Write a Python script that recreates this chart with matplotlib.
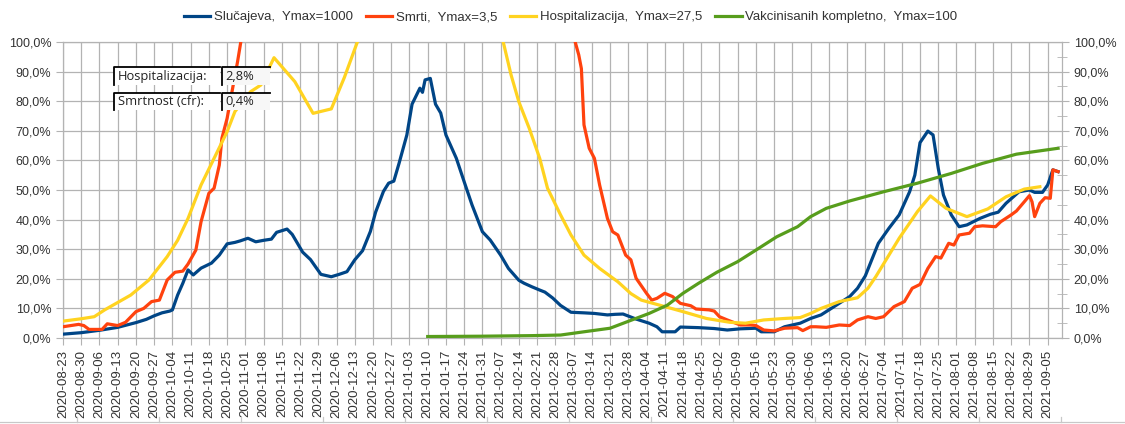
import matplotlib
matplotlib.use("Agg")
import matplotlib.pyplot as plt
import matplotlib.dates as mdates
from matplotlib.patches import Rectangle
from matplotlib.lines import Line2D
from matplotlib.ticker import FuncFormatter, MultipleLocator
import numpy as np
import pandas as pd

# --- podaci (procenat od Ymax) ---
nazivi = ["Slučajeva,  Ymax=1000", "Smrti,  Ymax=3,5",
          "Hospitalizacija,  Ymax=27,5", "Vakcinisanih kompletno,  Ymax=100"]
boje = ["#004586", "#ff420e", "#ffd320", "#579d1c"]

slucajevi_dani = [0, 7, 14, 21, 28, 32, 35, 38, 41, 42, 44, 46, 48, 50, 53, 57, 60, 63, 66, 68,
                  71, 74, 77, 80, 82, 86, 88, 92, 95, 99, 103, 106, 109, 112, 115, 118, 120, 123,
                  125, 127, 129, 132, 134, 137, 138, 139, 141, 143, 145, 147, 151, 154, 157, 161,
                  164, 168, 171, 175, 177, 180, 183, 185, 188, 191, 195, 200, 204, 209, 212, 215,
                  220, 225, 228, 230, 235, 237, 244, 250, 255, 260, 266, 268, 273, 277, 283, 287,
                  291, 296, 302, 305, 308, 313, 317, 321, 325, 327, 329, 332, 334, 336, 338, 341,
                  344, 347, 352, 356, 359, 362, 367, 371, 373, 376, 378, 380, 382]
slucajevi = [1.3, 1.8, 2.6, 3.6, 5.2, 6.3, 7.5, 8.5, 9.1, 9.5, 14.5, 18.5, 23.0, 21.3, 23.6, 25.3,
             28.0, 31.8, 32.3, 32.8, 33.7, 32.5, 33.0, 33.4, 35.7, 36.8, 35.0, 29.0, 26.5, 21.5,
             20.7, 21.5, 22.4, 26.4, 29.5, 36.0, 42.5, 49.5, 52.3, 53.0, 59.0, 68.6, 79.0, 84.4,
             83.0, 87.2, 87.7, 79.0, 76.0, 68.6, 60.7, 52.8, 45.0, 35.9, 33.1, 28.0, 23.5, 19.5,
             18.5, 17.3, 16.2, 15.5, 13.5, 11.0, 8.7, 8.5, 8.3, 7.8, 8.0, 8.1, 6.4, 5.0, 3.8, 2.1,
             2.1, 3.7, 3.5, 3.2, 2.7, 3.1, 3.3, 2.1, 2.1, 3.8, 5.0, 6.6, 7.8, 10.6, 14.0, 16.8,
             21.0, 32.0, 37.0, 41.6, 49.4, 55.0, 66.0, 69.9, 68.6, 57.3, 48.3, 41.6, 37.6, 38.2,
             40.4, 41.8, 42.5, 45.5, 49.4, 50.0, 49.2, 49.2, 51.7, 56.8, 56.2]

smrti_dani = [0, 3, 6, 8, 10, 15, 17, 21, 24, 28, 31, 34, 37, 40, 43, 46, 48, 51, 53, 56, 58, 60,
              61, 63, 65, 67, 69, 70, 195, 196, 198, 199, 200, 202, 204, 206, 209, 211, 213, 216,
              218, 220, 224, 226, 228, 231, 234, 237, 241, 243, 248, 250, 252, 255, 260, 264, 266,
              269, 273, 277, 282, 284, 287, 289, 293, 298, 302, 305, 309, 312, 315, 319, 323, 326,
              329, 332, 335, 337, 340, 342, 344, 348, 350, 353, 358, 360, 364, 366, 369, 371, 372,
              373, 375, 377, 379, 380, 382]
smrti = [3.8, 4.2, 4.6, 4.2, 2.9, 2.9, 4.8, 4.2, 5.3, 8.9, 10.0, 12.3, 12.8, 19.6, 22.2, 22.6,
         25.0, 29.7, 39.3, 48.9, 50.6, 58.4, 67.5, 74.2, 83.8, 93.3, 104.0, np.nan, np.nan, 102.0,
         95.6, 91.0, 72.0, 64.1, 60.7, 51.7, 40.4, 35.9, 34.8, 28.0, 26.4, 20.2, 15.1, 12.8, 13.4,
         15.1, 14.0, 11.7, 10.9, 9.8, 9.5, 9.1, 7.2, 6.1, 4.4, 4.4, 4.2, 2.7, 2.4, 3.3, 3.5, 2.5,
         3.8, 3.8, 3.6, 4.4, 4.2, 6.1, 7.2, 6.6, 7.2, 10.6, 12.3, 16.8, 18.1, 23.5, 27.5, 27.0,
         32.0, 31.4, 34.8, 35.4, 37.6, 37.9, 37.6, 39.3, 41.6, 42.9, 46.0, 48.1, 46.0, 41.0, 45.5,
         47.4, 47.2, 56.8, 56.2]

hosp_dani = [0, 7, 12, 16, 21, 26, 33, 40, 44, 48, 53, 58, 63, 66, 72, 76, 81, 89, 96, 103, 108,
             113, 115, 167, 169, 172, 175, 179, 183, 186, 191, 195, 200, 206, 213, 218, 222, 229,
             238, 247, 256, 262, 269, 277, 283, 287, 291, 298, 305, 309, 312, 321, 328, 333, 339,
             347, 355, 362, 369, 375]
hosp = [5.7, 6.5, 7.2, 9.5, 12.0, 14.5, 19.6, 27.5, 33.0, 40.4, 51.7, 60.7, 69.7, 76.5, 83.2,
        85.5, 94.7, 86.6, 75.9, 77.4, 88.0, 100.0, 106.0, 106.0, 100.0, 88.9, 79.8, 70.8, 60.7,
        50.6, 41.6, 34.8, 28.0, 23.5, 19.0, 15.0, 12.8, 11.1, 8.9, 6.6, 5.3, 5.0, 6.1, 6.6, 6.9,
        8.3, 10.0, 12.3, 13.6, 16.8, 20.7, 33.7, 42.7, 48.0, 43.8, 41.0, 43.6, 47.7, 50.3, 51.1]

vakc_dani = [140, 160, 180, 191, 200, 210, 216, 225, 232, 238, 244, 251, 259, 266, 274, 282, 287,
             293, 302, 315, 328, 341, 353, 366, 382]
vakc = [0.5, 0.6, 0.8, 1.0, 2.1, 3.3, 5.3, 8.3, 11.1, 15.1, 18.5, 22.2, 25.8, 29.7, 34.2, 37.6,
        41.0, 43.8, 46.3, 49.4, 52.3, 55.6, 59.0, 62.1, 64.1]

pocetak = pd.Timestamp("2020-08-23")
tabela_nazivi = ["Hospitalizacija:", "Smrtnost (cfr):"]
tabela_vrednosti = ["2,8%", "0,4%"]

plt.rcParams['font.family'] = ['Liberation Sans', 'DejaVu Sans']

fig = plt.figure(figsize=(11.25, 4.24), dpi=100)
ax = fig.add_axes([63 / 1125, 1 - 338 / 424, 999 / 1125, 296 / 424])

serije = [(slucajevi_dani, slucajevi), (smrti_dani, smrti), (hosp_dani, hosp), (vakc_dani, vakc)]
for i, (dani, vrednosti) in enumerate(serije):
    datumi = pocetak + pd.to_timedelta(dani, unit="D")
    ax.plot(datumi, vrednosti, color=boje[i], lw=2.3, label=nazivi[i], zorder=3 + i,
            solid_joinstyle='round')

ax.set_ylim(0, 100)
ax.set_xlim(pocetak, pd.Timestamp("2021-09-10 12:00"))

tikovi = pd.date_range("2020-08-23", "2021-09-05", freq="7D")
ax.set_xticks(tikovi)
ax.xaxis.set_major_formatter(mdates.DateFormatter("%Y-%m-%d"))
plt.setp(ax.get_xticklabels(), rotation=90, fontsize=9.5, color="#333333")

fmt = FuncFormatter(lambda v, p: f"{v:.1f}%".replace(".", ","))
ax.yaxis.set_major_locator(MultipleLocator(10))
ax.yaxis.set_major_formatter(fmt)
ax.tick_params(axis='y', labelsize=9, colors="#b3b3b3", labelcolor="#333333", length=5)
ax.tick_params(axis='x', colors="#b3b3b3", labelcolor="#333333", length=5)

ax.grid(True, color="#b3b3b3", lw=0.9)
for s in ax.spines.values():
    s.set_color("#b3b3b3")
    s.set_linewidth(0.9)

ax2 = ax.twinx()
ax2.set_ylim(0, 100)
ax2.yaxis.set_major_locator(MultipleLocator(10))
ax2.yaxis.set_minor_locator(MultipleLocator(5))
ax2.yaxis.set_major_formatter(fmt)
ax2.tick_params(axis='y', which='major', labelsize=9, colors="#b3b3b3", labelcolor="#333333", length=5)
ax2.tick_params(axis='y', which='minor', colors="#b3b3b3", direction='inout', length=7)
for s in ax2.spines.values():
    s.set_visible(False)

leg = ax.legend(loc='lower center', bbox_to_anchor=(0.508, 1.045), ncol=4, frameon=False,
                fontsize=9.5, handlelength=2.0, handletextpad=0.25, columnspacing=1.0,
                borderaxespad=0)
for t in leg.get_texts():
    t.set_color("#333333")

# tabela u gornjem levom uglu
redovi_y = [(0.855, 0.060), (0.770, 0.057)]
for (y0, h), naziv, vr in zip(redovi_y, tabela_nazivi, tabela_vrednosti):
    for x0, w, tekst, fc in [(0.0514, 0.1058, naziv, "white"), (0.1589, 0.0483, vr, "#f7f7f7")]:
        ax.add_patch(Rectangle((x0, y0), w, h, transform=ax.transAxes, facecolor=fc,
                               edgecolor="none", zorder=10, clip_on=False))
        ax.add_line(Line2D([x0, x0, x0 + w], [y0, y0 + h, y0 + h], transform=ax.transAxes,
                           color="black", lw=1.3, zorder=11, clip_on=False))
        ax.text(x0 + 0.0035, y0 + h / 2, tekst, transform=ax.transAxes, fontsize=9.3,
                family=['Open Sans', 'DejaVu Sans'], color="#222222", va='center', ha='left',
                zorder=12)

# donja linija (deo susednog grafikona)
fig.add_artist(Line2D([0, 1], [1 - 421.5 / 424] * 2, color="#c8c8c8", lw=0.9))
for xp in np.arange(77, 1125, 82):
    fig.add_artist(Line2D([xp / 1125] * 2, [1 - 421.5 / 424, 1 - 417 / 424], color="#c8c8c8", lw=0.9))

fig.savefig("out.png", dpi=100)
